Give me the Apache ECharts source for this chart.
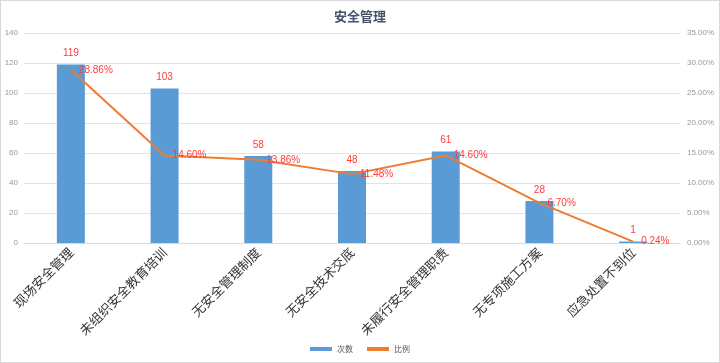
<!DOCTYPE html>
<html><head><meta charset="utf-8">
<script src="https://cdn.jsdelivr.net/npm/echarts@6/dist/echarts.min.js"></script>
<style>html,body{margin:0;padding:0;background:#fff}#c{width:720px;height:363px;box-sizing:border-box;border:1px solid #d9d9d9}</style>
</head><body><div id="c"></div>
<script>
const title = '安全管理';
const categories = ['现场安全管理','未组织安全教育培训','无安全管理制度','无安全技术交底','未履行安全管理职责','无专项施工方案','应急处置不到位'];
const counts = [119,103,58,48,61,28,1];
const ratios = [28.86,14.60,13.86,11.48,14.60,6.70,0.24];
const seriesNames = ['次数','比例'];

const chart = echarts.init(document.getElementById('c'));
chart.setOption({
  animation:false,
  title:{text:title,left:'center',top:4,textStyle:{color:'#44546A',fontSize:13,fontWeight:'bold',fontFamily:'Noto Sans CJK SC'}},
  legend:{bottom:4,left:'center',itemWidth:22,itemHeight:4,itemGap:14,textStyle:{fontSize:8,color:'#555',fontFamily:'Noto Sans CJK SC'},
    data:[{name:seriesNames[0],icon:'rect',itemStyle:{color:'#5B9BD5'}},{name:seriesNames[1],icon:'rect',itemStyle:{color:'#ED7D31',opacity:1}}]},
  grid:{left:23,right:39,top:32,bottom:119,containLabel:false,outerBoundsMode:'none'},
  xAxis:{type:'category',data:categories,axisTick:{show:false},axisLine:{lineStyle:{color:'#d9d9d9'}},
    axisLabel:{rotate:45,interval:0,fontSize:13,color:'#333',fontFamily:'Noto Sans CJK SC',margin:7}},
  yAxis:[
    {type:'value',min:0,max:140,interval:20,axisLabel:{fontSize:8,color:'#999',margin:6},axisLine:{show:false},axisTick:{show:false},splitLine:{lineStyle:{color:'#e3e3e3'}}},
    {type:'value',min:0,max:35,interval:5,axisLabel:{fontSize:8,color:'#999',formatter:v=>v.toFixed(2)+'%',margin:7},axisLine:{show:false},axisTick:{show:false},splitLine:{show:false}}
  ],
  series:[
    {name:seriesNames[0],type:'bar',data:counts,barWidth:28,itemStyle:{color:'#5B9BD5'},
      label:{show:true,position:'top',color:'#FF3B3B',fontSize:10,distance:6}},
    {name:seriesNames[1],type:'line',yAxisIndex:1,data:ratios,symbol:'circle',symbolSize:0.01,showSymbol:true,lineStyle:{color:'#ED7D31',width:2},itemStyle:{color:'#ED7D31'},
      labelLayout:{hideOverlap:false},
      label:{show:true,position:'right',distance:8,color:'#FF3B3B',fontSize:10,formatter:p=>p.value.toFixed(2)+'%'}}
  ]
});
</script></body></html>
